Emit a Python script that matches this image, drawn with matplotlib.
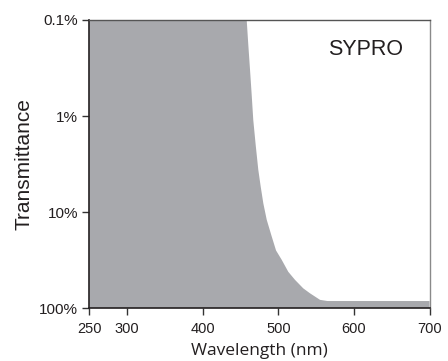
import matplotlib
matplotlib.use("Agg")
import matplotlib.pyplot as plt
from matplotlib.ticker import FixedLocator, NullLocator

# transmission data (percent)
wavelength = [250, 456, 458.2, 460.3, 462.6, 464.8, 466.9, 470.1, 473.5, 476.7,
              480.2, 484.7, 491.3, 497, 504.5, 513.2, 522.1, 533, 541.9, 555.2,
              565, 700]
transmittance = [0.01, 0.01, 0.1, 0.18, 0.33, 0.6, 1.1, 2.0, 3.6, 5.4,
                 8.1, 12.0, 17.9, 25, 31.3, 41.7, 50.6, 62, 69.8, 81.7,
                 84, 84]

x_ticks = [250, 300, 400, 500, 600, 700]
y_ticks = [0.1, 1, 10, 100]
y_labels = ["0.1%", "1%", "10%", "100%"]

plt.rcParams['font.family'] = ['Liberation Sans', 'DejaVu Sans']

fig = plt.figure(figsize=(4.48, 3.61), dpi=100)
ax = fig.add_axes([89.3 / 448, (361 - 308.3) / 361, (429.5 - 89.3) / 448, (308.3 - 20) / 361])

ax.fill_between(wavelength, transmittance, 100, color="#a8a9ad", lw=0)

ax.set_yscale("log")
ax.set_xlim(250, 700)
ax.set_ylim(100, 0.1)

ax.xaxis.set_major_locator(FixedLocator(x_ticks))
ax.yaxis.set_major_locator(FixedLocator(y_ticks))
ax.yaxis.set_minor_locator(NullLocator())
ax.set_yticklabels(y_labels)
ax.tick_params(axis="both", direction="out", length=5, width=1,
               color="#333333", labelcolor="#231f20")
ax.tick_params(axis="x", labelsize=10.5, pad=5)
ax.tick_params(axis="y", labelsize=11, pad=3)

for side in ["left", "bottom"]:
    ax.spines[side].set_color("#231f20")
    ax.spines[side].set_linewidth(1.2)
ax.spines["top"].set_color("#555555")
ax.spines["top"].set_linewidth(1)
ax.spines["right"].set_color("#8a8a8a")
ax.spines["right"].set_linewidth(1)

ax.set_ylabel("Transmittance", fontsize=15, color="#231f20")
ax.yaxis.set_label_coords(-0.165, 0.5)
ax.set_xlabel("Wavelength (nm)", fontsize=12.5, color="#231f20", labelpad=5,
              family=["Open Sans", "DejaVu Sans"])

ax.text(0.813, 0.899, "SYPRO", transform=ax.transAxes, ha="center", va="center",
        fontsize=15.5, color="#231f20")

fig.savefig("out.png", dpi=100)
